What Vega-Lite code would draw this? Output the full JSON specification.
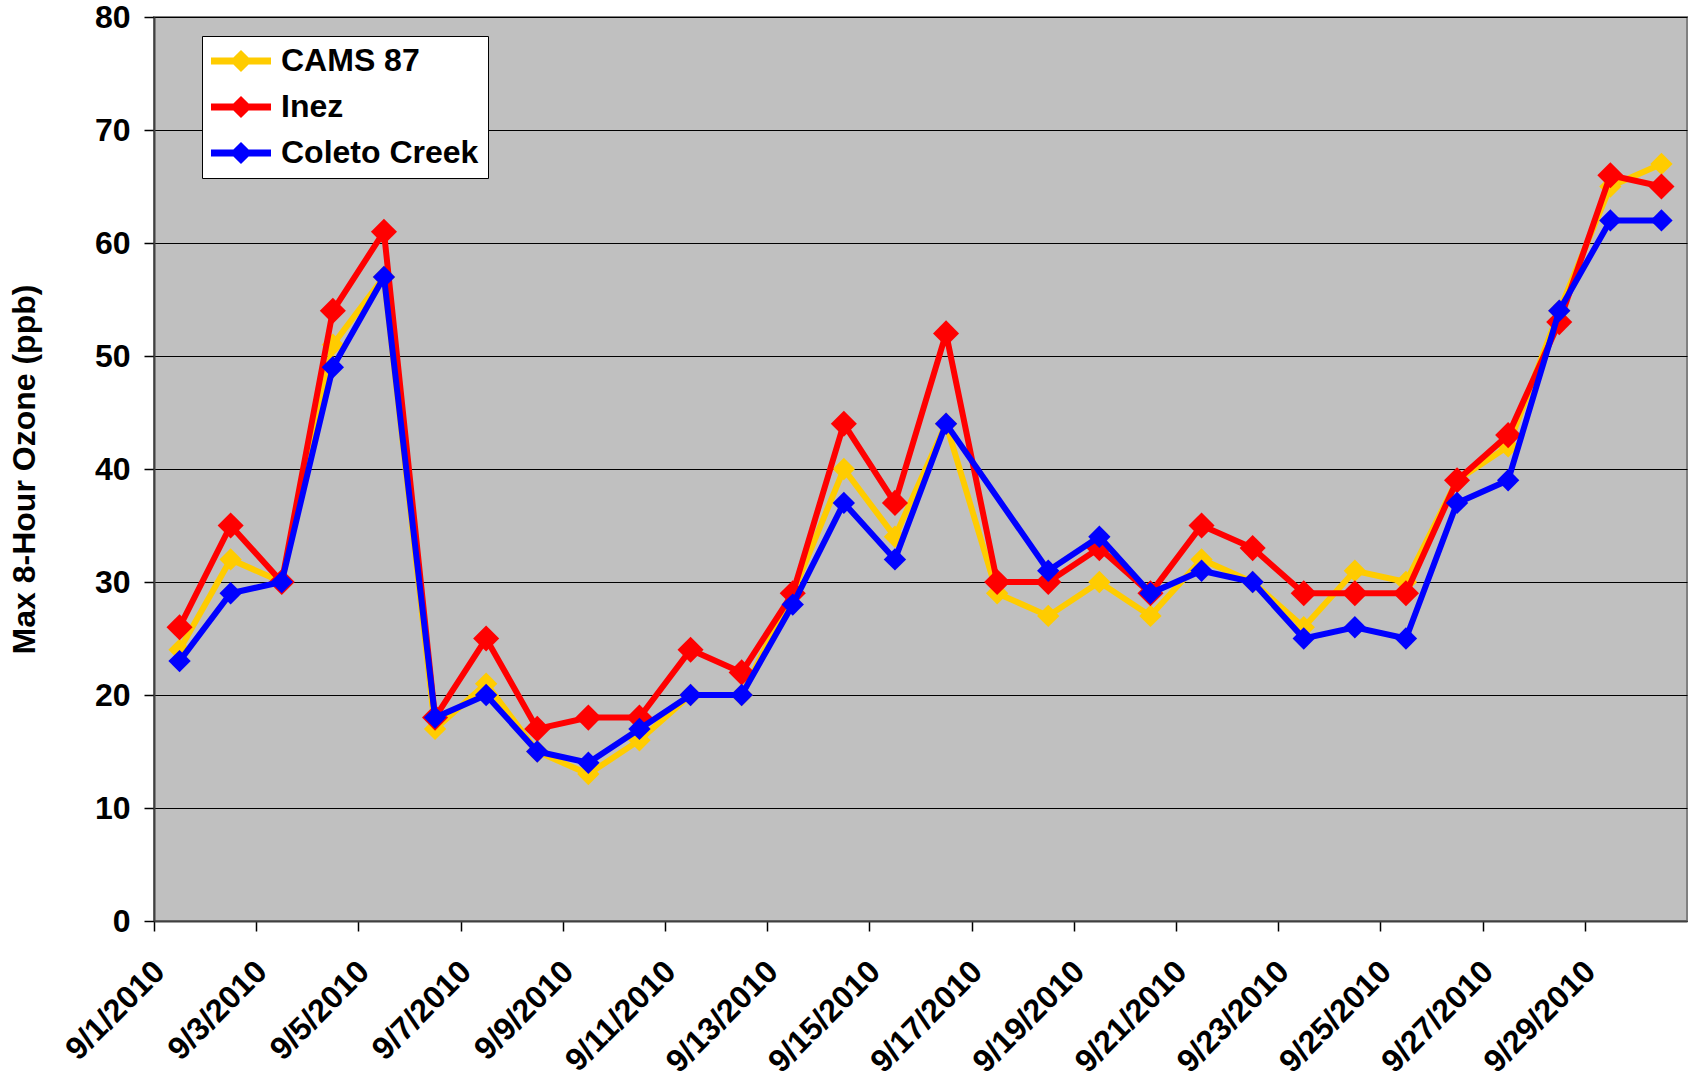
{
  "$schema": "https://vega.github.io/schema/vega-lite/v6.json",
  "autosize": "none",
  "width": 1533,
  "height": 904,
  "padding": {"left": 154, "top": 17, "right": 11, "bottom": 163},
  "background": "white",
  "config": {
    "font": "Liberation Sans",
    "view": {"fill": "#C0C0C0", "stroke": "#808080", "strokeWidth": 2}
  },
  "datasets": {
    "ozone": [
      {"d":"9/1/2010","s":"CAMS 87","v":24},{"d":"9/2/2010","s":"CAMS 87","v":32},{"d":"9/3/2010","s":"CAMS 87","v":30},{"d":"9/4/2010","s":"CAMS 87","v":51},{"d":"9/5/2010","s":"CAMS 87","v":57},{"d":"9/6/2010","s":"CAMS 87","v":17},{"d":"9/7/2010","s":"CAMS 87","v":21},{"d":"9/8/2010","s":"CAMS 87","v":15},{"d":"9/9/2010","s":"CAMS 87","v":13},{"d":"9/10/2010","s":"CAMS 87","v":16},{"d":"9/11/2010","s":"CAMS 87","v":20},{"d":"9/12/2010","s":"CAMS 87","v":20},{"d":"9/13/2010","s":"CAMS 87","v":29},{"d":"9/14/2010","s":"CAMS 87","v":40},{"d":"9/15/2010","s":"CAMS 87","v":34},{"d":"9/16/2010","s":"CAMS 87","v":44},{"d":"9/17/2010","s":"CAMS 87","v":29},{"d":"9/18/2010","s":"CAMS 87","v":27},{"d":"9/19/2010","s":"CAMS 87","v":30},{"d":"9/20/2010","s":"CAMS 87","v":27},{"d":"9/21/2010","s":"CAMS 87","v":32},{"d":"9/22/2010","s":"CAMS 87","v":30},{"d":"9/23/2010","s":"CAMS 87","v":26},{"d":"9/24/2010","s":"CAMS 87","v":31},{"d":"9/25/2010","s":"CAMS 87","v":30},{"d":"9/26/2010","s":"CAMS 87","v":39},{"d":"9/27/2010","s":"CAMS 87","v":42},{"d":"9/28/2010","s":"CAMS 87","v":54},{"d":"9/29/2010","s":"CAMS 87","v":65},{"d":"9/30/2010","s":"CAMS 87","v":67},
      {"d":"9/1/2010","s":"Inez","v":26},{"d":"9/2/2010","s":"Inez","v":35},{"d":"9/3/2010","s":"Inez","v":30},{"d":"9/4/2010","s":"Inez","v":54},{"d":"9/5/2010","s":"Inez","v":61},{"d":"9/6/2010","s":"Inez","v":18},{"d":"9/7/2010","s":"Inez","v":25},{"d":"9/8/2010","s":"Inez","v":17},{"d":"9/9/2010","s":"Inez","v":18},{"d":"9/10/2010","s":"Inez","v":18},{"d":"9/11/2010","s":"Inez","v":24},{"d":"9/12/2010","s":"Inez","v":22},{"d":"9/13/2010","s":"Inez","v":29},{"d":"9/14/2010","s":"Inez","v":44},{"d":"9/15/2010","s":"Inez","v":37},{"d":"9/16/2010","s":"Inez","v":52},{"d":"9/17/2010","s":"Inez","v":30},{"d":"9/18/2010","s":"Inez","v":30},{"d":"9/19/2010","s":"Inez","v":33},{"d":"9/20/2010","s":"Inez","v":29},{"d":"9/21/2010","s":"Inez","v":35},{"d":"9/22/2010","s":"Inez","v":33},{"d":"9/23/2010","s":"Inez","v":29},{"d":"9/24/2010","s":"Inez","v":29},{"d":"9/25/2010","s":"Inez","v":29},{"d":"9/26/2010","s":"Inez","v":39},{"d":"9/27/2010","s":"Inez","v":43},{"d":"9/28/2010","s":"Inez","v":53},{"d":"9/29/2010","s":"Inez","v":66},{"d":"9/30/2010","s":"Inez","v":65},
      {"d":"9/1/2010","s":"Coleto Creek","v":23},{"d":"9/2/2010","s":"Coleto Creek","v":29},{"d":"9/3/2010","s":"Coleto Creek","v":30},{"d":"9/4/2010","s":"Coleto Creek","v":49},{"d":"9/5/2010","s":"Coleto Creek","v":57},{"d":"9/6/2010","s":"Coleto Creek","v":18},{"d":"9/7/2010","s":"Coleto Creek","v":20},{"d":"9/8/2010","s":"Coleto Creek","v":15},{"d":"9/9/2010","s":"Coleto Creek","v":14},{"d":"9/10/2010","s":"Coleto Creek","v":17},{"d":"9/11/2010","s":"Coleto Creek","v":20},{"d":"9/12/2010","s":"Coleto Creek","v":20},{"d":"9/13/2010","s":"Coleto Creek","v":28},{"d":"9/14/2010","s":"Coleto Creek","v":37},{"d":"9/15/2010","s":"Coleto Creek","v":32},{"d":"9/16/2010","s":"Coleto Creek","v":44},{"d":"9/18/2010","s":"Coleto Creek","v":31},{"d":"9/19/2010","s":"Coleto Creek","v":34},{"d":"9/20/2010","s":"Coleto Creek","v":29},{"d":"9/21/2010","s":"Coleto Creek","v":31},{"d":"9/22/2010","s":"Coleto Creek","v":30},{"d":"9/23/2010","s":"Coleto Creek","v":25},{"d":"9/24/2010","s":"Coleto Creek","v":26},{"d":"9/25/2010","s":"Coleto Creek","v":25},{"d":"9/26/2010","s":"Coleto Creek","v":37},{"d":"9/27/2010","s":"Coleto Creek","v":39},{"d":"9/28/2010","s":"Coleto Creek","v":54},{"d":"9/29/2010","s":"Coleto Creek","v":62},{"d":"9/30/2010","s":"Coleto Creek","v":62}
    ]
  },
  "data": {"name": "ozone"},
  "encoding": {
    "x": {
      "field": "d", "type": "ordinal",
      "scale": {"type": "point", "padding": 0.5, "domain": ["9/1/2010","9/2/2010","9/3/2010","9/4/2010","9/5/2010","9/6/2010","9/7/2010","9/8/2010","9/9/2010","9/10/2010","9/11/2010","9/12/2010","9/13/2010","9/14/2010","9/15/2010","9/16/2010","9/17/2010","9/18/2010","9/19/2010","9/20/2010","9/21/2010","9/22/2010","9/23/2010","9/24/2010","9/25/2010","9/26/2010","9/27/2010","9/28/2010","9/29/2010","9/30/2010"]},
      "axis": {
        "title": null,
        "values": ["9/1/2010","9/3/2010","9/5/2010","9/7/2010","9/9/2010","9/11/2010","9/13/2010","9/15/2010","9/17/2010","9/19/2010","9/21/2010","9/23/2010","9/25/2010","9/27/2010","9/29/2010"],
        "tickOffset": -25.55,
        "tickSize": 10, "tickColor": "#000000", "tickWidth": 1.5,
        "domainColor": "#404040", "domainWidth": 2,
        "labelAngle": -45, "labelAlign": "right", "labelBaseline": "middle",
        "labelFont": "Liberation Sans", "labelFontWeight": "bold", "labelFontSize": 32, "labelColor": "#000000",
        "labelPadding": 35, "labelOffset": 5, "labelOverlap": false, "labelLimit": 400, "grid": false
      }
    },
    "y": {
      "field": "v", "type": "quantitative",
      "scale": {"domain": [0, 80], "nice": false, "zero": true},
      "axis": {
        "title": "Max 8-Hour Ozone (ppb)",
        "titleFont": "Liberation Sans", "titleFontWeight": "bold", "titleFontSize": 32, "titleColor": "#000000", "titlePadding": 53,
        "values": [0,10,20,30,40,50,60,70,80],
        "tickSize": 10, "tickColor": "#000000", "tickWidth": 1.5,
        "domainColor": "#404040", "domainWidth": 2,
        "grid": true, "gridColor": "#000000", "gridWidth": 1.2,
        "labelFont": "Liberation Sans", "labelFontWeight": "bold", "labelFontSize": 32, "labelColor": "#000000", "labelPadding": 14
      }
    }
  },
  "layer": [
    {"transform": [{"filter": "datum.s === 'CAMS 87'"}], "mark": {"type": "line", "strokeWidth": 6, "color": "#FFCC00"}},
    {"transform": [{"filter": "datum.s === 'CAMS 87'"}], "mark": {"type": "point", "shape": "diamond", "filled": true, "opacity": 1, "size": 500, "strokeWidth": 0},
     "encoding": {"fill": {"field": "s", "type": "nominal", "scale": {"domain": ["CAMS 87", "Inez", "Coleto Creek"], "range": ["#FFCC00", "#FF0000", "#0000FF"]},
       "legend": {"title": null, "orient": "none", "legendX": 48, "legendY": 19, "fillColor": "#FFFFFF", "strokeColor": "#000000", "padding": 9,
         "symbolType": "M-2,-0.24H2V0.24H-2Z M0,-0.74L0.74,0L0,0.74L-0.74,0Z", "symbolSize": 900, "symbolStrokeWidth": 0, "symbolOpacity": 1, "symbolOffset": 14,
         "labelFont": "Liberation Sans", "labelFontWeight": "bold", "labelFontSize": 32, "labelColor": "#000000", "labelOffset": 24, "labelLimit": 400, "rowPadding": 14}}}},
    {"transform": [{"filter": "datum.s === 'Inez'"}], "mark": {"type": "line", "strokeWidth": 6, "color": "#FF0000"}},
    {"transform": [{"filter": "datum.s === 'Inez'"}], "mark": {"type": "point", "shape": "diamond", "filled": true, "opacity": 1, "size": 680, "strokeWidth": 0},
     "encoding": {"fill": {"field": "s", "type": "nominal"}}},
    {"transform": [{"filter": "datum.s === 'Coleto Creek'"}], "mark": {"type": "line", "strokeWidth": 6, "color": "#0000FF"}},
    {"transform": [{"filter": "datum.s === 'Coleto Creek'"}], "mark": {"type": "point", "shape": "diamond", "filled": true, "opacity": 1, "size": 500, "strokeWidth": 0},
     "encoding": {"fill": {"field": "s", "type": "nominal"}}}
  ]
}
